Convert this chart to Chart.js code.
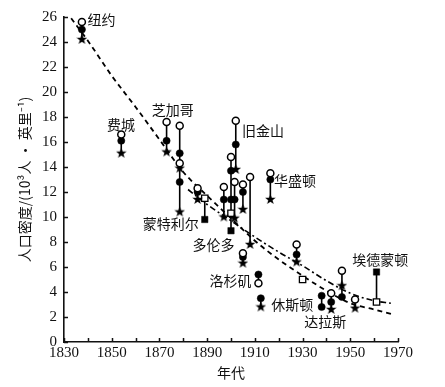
<!DOCTYPE html>
<html>
<head>
<meta charset="utf-8">
<script src="https://cdn.jsdelivr.net/npm/chart.js@4.4.1/dist/chart.umd.min.js"></script>
<style>
  html, body { margin: 0; padding: 0; background: #fff; }
</style>
</head>
<body>
<canvas id="chart" width="445" height="387"></canvas>
<script>
// markers: [year, density]
const openCircles = [[1837.5, 25.6], [1854, 16.6], [1873, 17.6], [1878.5, 17.3], [1878.5, 14.3], [1886, 12.3],
    [1897, 12.4], [1900, 14.8], [1902, 17.7], [1901.5, 12.8], [1905, 12.6], [1908, 13.2], [1916.5, 13.5],
    [1905, 7.1], [1911.5, 4.7], [1927.5, 7.8], [1942, 3.9], [1946.5, 5.7], [1952, 3.4]];
const filledCircles = [[1837.5, 25.0], [1854, 16.1], [1873, 16.1], [1878.5, 15.1], [1878.5, 12.8], [1886, 12.0],
    [1897, 11.4], [1900, 13.7], [1900, 11.4], [1902, 15.8], [1901.5, 11.4], [1905, 12.0], [1916.5, 13.0],
    [1905, 6.8], [1911.5, 5.4], [1912.5, 3.5], [1927.5, 7.0], [1938, 3.7], [1938, 2.8], [1942, 3.2], [1946.5, 3.6]];
const stars = [[1837.5, 24.2], [1854, 15.1], [1873, 15.2], [1878.5, 13.9], [1878.5, 10.4], [1886, 11.4],
    [1897, 10.0], [1902, 13.8], [1901.5, 9.9], [1905, 10.6], [1908, 7.8], [1916.5, 11.4], [1905, 6.3],
    [1912.5, 2.8], [1927.5, 6.4], [1942, 2.6], [1946.5, 4.5], [1952, 2.7]];
const openSquares = [[1889, 11.5], [1900, 10.3], [1930, 5.0], [1961, 3.2]];
const filledSquares = [[1889, 9.8], [1900, 8.9], [1961, 5.6]];

// vertical connectors: [year, top, bottom]
const stems = [[1837.5, 25.6, 24.2], [1854, 16.6, 15.1], [1873, 17.6, 15.2], [1878.5, 17.3, 10.4], [1886, 12.3, 11.4],
    [1889, 11.5, 9.8], [1897, 12.4, 10.0], [1900, 14.8, 8.9], [1902, 17.7, 13.8], [1901.5, 12.8, 9.9],
    [1905, 12.6, 10.6], [1908, 13.2, 7.8], [1916.5, 13.5, 11.4], [1905, 7.1, 6.3], [1911.5, 5.4, 4.7],
    [1912.5, 3.5, 2.8], [1927.5, 7.8, 6.4], [1938, 3.7, 2.8], [1942, 3.9, 2.6], [1946.5, 5.7, 3.6],
    [1952, 3.4, 2.7], [1961, 5.6, 3.2]];

// trend curves
const dashedYears = [1833, 1840, 1850, 1860, 1870, 1880, 1890, 1900, 1910, 1920, 1930, 1940, 1950, 1960, 1968];
const dashedValues = [25.9, 24.1, 21.3, 18.8, 16.2, 13.6, 11.7, 9.9, 8.1, 6.6, 5.3, 4.1, 3.1, 2.6, 2.2];
const dotDashYears = [1882, 1890, 1900, 1910, 1920, 1930, 1940, 1950, 1960, 1967];
const dotDashValues = [12.2, 11.0, 9.7, 8.4, 7.2, 6.1, 4.9, 3.9, 3.3, 3.1];

// city names: [text, year, density] (left edge, vertical middle)
const cityLabels = [['纽约', 1839.8, 25.8], ['费城', 1848.0, 17.4], ['芝加哥', 1866.8, 18.6], ['旧金山', 1904.6, 16.9],
    ['华盛顿', 1918.0, 12.9], ['蒙特利尔', 1863.0, 9.5], ['多伦多', 1883.9, 7.8], ['洛杉矶', 1891.0, 4.9],
    ['休斯顿', 1916.9, 3.0], ['达拉斯', 1930.7, 1.6], ['埃德蒙顿', 1950.8, 6.6]];

const toPoints = arr => arr.map(p => ({x: p[0], y: p[1]}));

function makeStar(size) {
    const c = document.createElement('canvas');
    c.width = c.height = size;
    const g = c.getContext('2d');
    const R = size / 2, r = R * 0.42;
    g.beginPath();
    for (let i = 0; i < 10; i++) {
        const a = -Math.PI / 2 + i * Math.PI / 5;
        const rr = i % 2 ? r : R;
        g.lineTo(R + rr * Math.cos(a), R + rr * Math.sin(a));
    }
    g.closePath();
    g.fillStyle = '#000';
    g.fill();
    return c;
}
const starImg = makeStar(11);

const stemPoints = [];
stems.forEach(s => {
    stemPoints.push({x: s[0], y: s[1]}, {x: s[0], y: s[2]}, {x: s[0], y: null});
});

const inwardTicks = {
    id: 'inwardTicks',
    afterDraw(chart) {
        const {ctx, scales: {x, y}, chartArea} = chart;
        ctx.save();
        ctx.strokeStyle = '#111';
        ctx.lineWidth = 1.5;
        ctx.beginPath();
        x.ticks.forEach(t => {
            const px = Math.round(x.getPixelForValue(t.value)) + 0.5;
            ctx.moveTo(px, chartArea.bottom);
            ctx.lineTo(px, chartArea.bottom - 4);
        });
        y.ticks.forEach(t => {
            const py = Math.round(y.getPixelForValue(t.value)) + 0.5;
            ctx.moveTo(chartArea.left, py);
            ctx.lineTo(chartArea.left + 4, py);
        });
        ctx.stroke();
        ctx.restore();
    }
};

const cityText = {
    id: 'cityText',
    afterDraw(chart) {
        const {ctx, scales: {x, y}} = chart;
        ctx.save();
        ctx.fillStyle = '#111';
        ctx.font = '14px "Noto Sans CJK SC", sans-serif';
        ctx.textAlign = 'left';
        ctx.textBaseline = 'middle';
        cityLabels.forEach(l => ctx.fillText(l[0], x.getPixelForValue(l[1]), y.getPixelForValue(l[2])));
        ctx.restore();
    }
};

const tickFont = {family: '"Liberation Serif", "Times New Roman", serif', size: 15};
const cjkFont = {family: '"Noto Sans CJK SC", sans-serif', size: 14, lineHeight: 1.2};

new Chart(document.getElementById('chart'), {
    type: 'scatter',
    data: {
        datasets: [
            {data: toPoints(openCircles), pointStyle: 'circle', pointRadius: 3.5, pointBackgroundColor: '#fff',
                pointBorderColor: '#000', pointBorderWidth: 1.5},
            {data: toPoints(filledCircles), pointStyle: 'circle', pointRadius: 3.6, pointBackgroundColor: '#000',
                pointBorderColor: '#000', pointBorderWidth: 0.5},
            {data: toPoints(stars), pointStyle: starImg},
            {data: toPoints(openSquares), pointStyle: 'rect', pointRadius: 4.5, pointBackgroundColor: '#fff',
                pointBorderColor: '#000', pointBorderWidth: 1.3},
            {data: toPoints(filledSquares), pointStyle: 'rect', pointRadius: 4.5, pointBackgroundColor: '#000',
                pointBorderColor: '#000', pointBorderWidth: 0.5},
            {data: stemPoints, showLine: true, spanGaps: false, pointRadius: 0, borderColor: '#000', borderWidth: 1.6},
            {data: dashedYears.map((yr, i) => ({x: yr, y: dashedValues[i]})), showLine: true, pointRadius: 0,
                borderColor: '#000', borderWidth: 1.8, borderDash: [5, 4], cubicInterpolationMode: 'monotone'},
            {data: dotDashYears.map((yr, i) => ({x: yr, y: dotDashValues[i]})), showLine: true, pointRadius: 0,
                borderColor: '#000', borderWidth: 1.6, borderDash: [6, 3, 2, 3], cubicInterpolationMode: 'monotone'}
        ]
    },
    options: {
        responsive: false,
        animation: false,
        events: [],
        layout: {padding: {top: 17, right: 47, bottom: 0, left: 0}},
        plugins: {legend: {display: false}, tooltip: {enabled: false}},
        scales: {
            x: {
                type: 'linear',
                min: 1830,
                max: 1970,
                afterFit: scale => { scale.height = 45; },
                grid: {display: false, drawTicks: false},
                border: {display: true, color: '#111', width: 1.6},
                ticks: {
                    stepSize: 10,
                    autoSkip: false,
                    maxRotation: 0,
                    padding: 2,
                    color: '#111',
                    font: tickFont,
                    callback: v => (v % 20 === 10 ? String(v) : '')
                },
                title: {display: true, text: '年代', color: '#111', font: cjkFont, padding: {top: 0, bottom: 6}}
            },
            y: {
                min: 0,
                max: 26,
                afterFit: scale => { scale.width = 64; },
                grid: {display: false, drawTicks: false},
                border: {display: true, color: '#111', width: 1.6},
                ticks: {stepSize: 2, padding: 7, color: '#111', font: tickFont},
                title: {display: true, text: '人口密度/(10³人 · 英里⁻¹)', color: '#111', font: cjkFont,
                    padding: {top: 16, bottom: 0}}
            }
        }
    },
    plugins: [inwardTicks, cityText]
});
</script>
</body>
</html>
